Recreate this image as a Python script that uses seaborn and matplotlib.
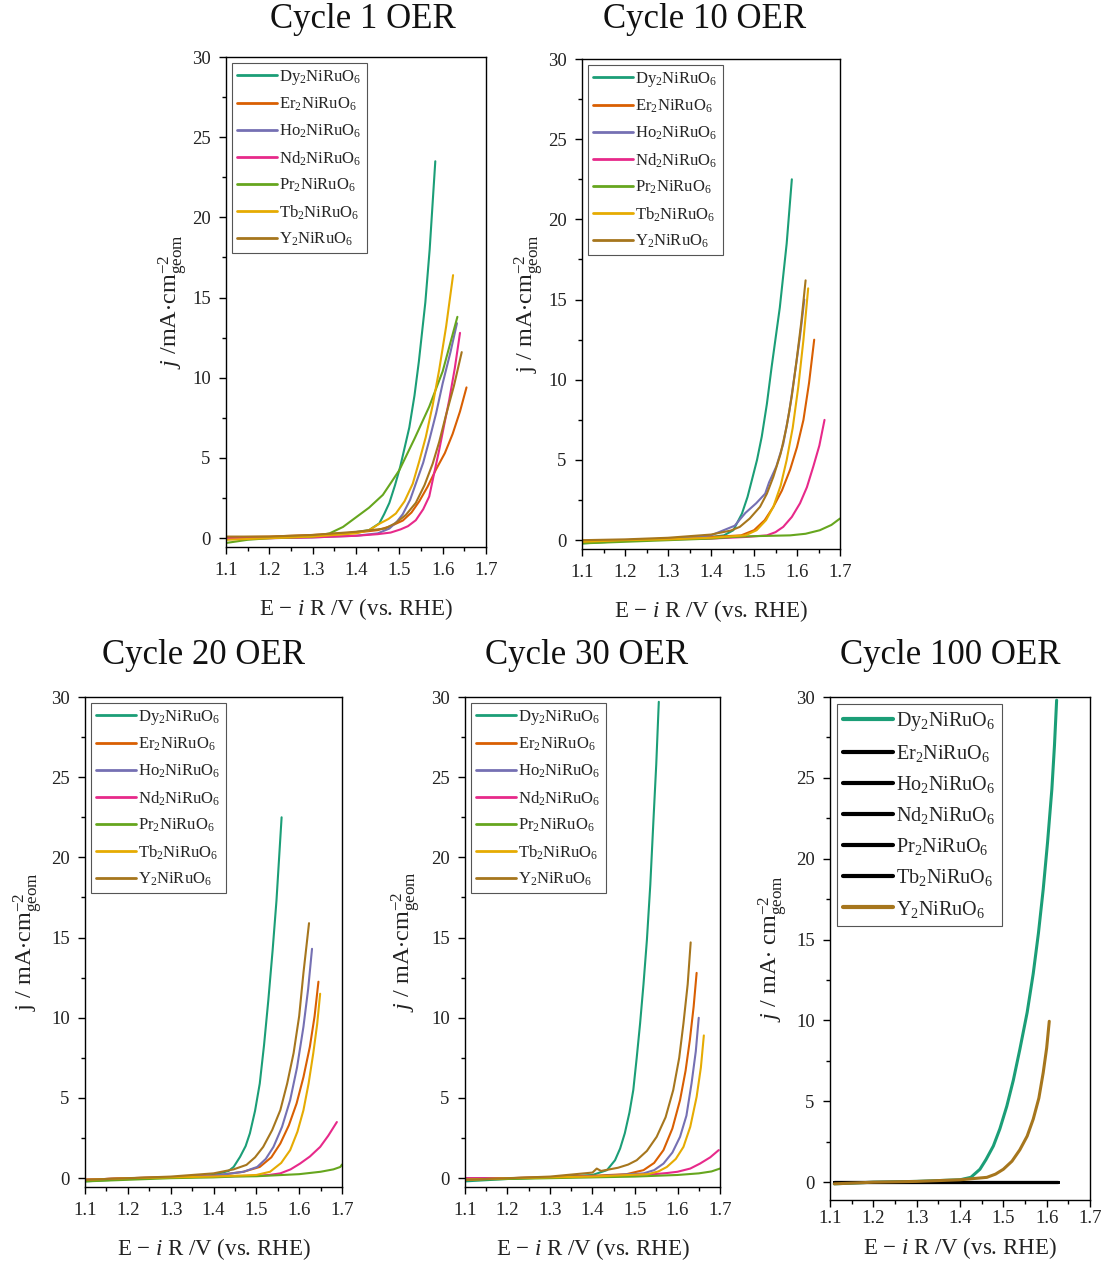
import numpy as np
import pandas as pd
import matplotlib
matplotlib.use("Agg")
import matplotlib.pyplot as plt
from matplotlib.ticker import MultipleLocator
import seaborn as sns

# materials and colours (Dark2 style, as in the figure)
materials = ["Dy", "Er", "Ho", "Nd", "Pr", "Tb", "Y"]
colors = ["#1b9e77", "#d95f02", "#7570b3", "#e7298a", "#66a61e", "#e6ab02", "#a6761d"]
labels = [m + r"$_2$NiRuO$_6$" for m in materials]

# values: potential (V vs RHE), current density (mA cm-2)
cycle1 = {
    "Dy": ([1.10, 1.20, 1.30, 1.38, 1.43, 1.454, 1.465, 1.477, 1.49, 1.502, 1.523, 1.535, 1.545, 1.56, 1.57, 1.583],
           [0.0, 0.05, 0.15, 0.3, 0.5, 0.93, 1.5, 2.2, 3.3, 4.45, 6.9, 8.9, 11.0, 14.7, 18.0, 23.5]),
    "Er": ([1.10, 1.20, 1.30, 1.40, 1.45, 1.48, 1.508, 1.528, 1.546, 1.565, 1.584, 1.605, 1.623, 1.64, 1.655],
           [0.05, 0.1, 0.2, 0.35, 0.5, 0.75, 1.1, 1.6, 2.3, 3.2, 4.25, 5.3, 6.5, 7.9, 9.4]),
    "Ho": ([1.10, 1.20, 1.30, 1.40, 1.45, 1.477, 1.495, 1.508, 1.525, 1.538, 1.555, 1.569, 1.585, 1.60, 1.618, 1.633],
           [-0.05, 0.0, 0.05, 0.15, 0.3, 0.6, 1.05, 1.5, 2.4, 3.4, 4.7, 6.1, 7.8, 9.65, 11.6, 13.4]),
    "Nd": ([1.10, 1.20, 1.30, 1.40, 1.45, 1.48, 1.503, 1.52, 1.538, 1.555, 1.569, 1.58, 1.592, 1.603, 1.615, 1.628, 1.64],
           [0.0, 0.0, 0.05, 0.15, 0.25, 0.35, 0.55, 0.75, 1.12, 1.8, 2.6, 4.0, 5.5, 7.0, 8.6, 10.6, 12.8]),
    "Pr": ([1.10, 1.15, 1.20, 1.30, 1.339, 1.37, 1.40, 1.43, 1.462, 1.50, 1.535, 1.569, 1.60, 1.634],
           [-0.3, -0.1, 0.0, 0.1, 0.3, 0.7, 1.3, 1.9, 2.7, 4.24, 6.2, 8.2, 10.4, 13.8]),
    "Tb": ([1.10, 1.20, 1.30, 1.40, 1.43, 1.454, 1.475, 1.492, 1.512, 1.531, 1.546, 1.561, 1.577, 1.592, 1.608, 1.624],
           [-0.1, 0.0, 0.1, 0.3, 0.5, 0.9, 1.2, 1.54, 2.3, 3.4, 4.8, 6.3, 8.3, 10.5, 13.2, 16.4]),
    "Y": ([1.10, 1.20, 1.30, 1.40, 1.467, 1.492, 1.515, 1.538, 1.558, 1.577, 1.592, 1.607, 1.626, 1.644],
          [0.1, 0.1, 0.2, 0.4, 0.6, 0.95, 1.45, 2.2, 3.3, 4.65, 6.0, 7.6, 9.5, 11.6]),
}
cycle10 = {
    "Dy": ([1.10, 1.20, 1.30, 1.40, 1.43, 1.452, 1.472, 1.485, 1.495, 1.507, 1.518, 1.53, 1.541, 1.56, 1.576, 1.588],
           [-0.2, -0.05, 0.05, 0.2, 0.3, 0.62, 1.66, 2.7, 3.74, 5.0, 6.45, 8.5, 10.8, 14.5, 18.5, 22.5]),
    "Er": ([1.10, 1.20, 1.30, 1.40, 1.47, 1.50, 1.525, 1.545, 1.565, 1.584, 1.60, 1.615, 1.628, 1.64],
           [-0.1, 0.0, 0.1, 0.2, 0.3, 0.62, 1.25, 2.08, 3.1, 4.4, 5.8, 7.5, 9.8, 12.5]),
    "Ho": ([1.10, 1.20, 1.30, 1.40, 1.455, 1.48, 1.505, 1.526, 1.535, 1.552, 1.568, 1.582, 1.595, 1.607, 1.617],
           [-0.1, 0.0, 0.1, 0.3, 0.9, 1.7, 2.3, 2.9, 3.6, 4.6, 6.0, 8.0, 10.4, 12.7, 15.0]),
    "Nd": ([1.10, 1.20, 1.30, 1.40, 1.48, 1.53, 1.55, 1.568, 1.588, 1.607, 1.623, 1.638, 1.652, 1.664],
           [-0.1, 0.0, 0.05, 0.1, 0.2, 0.3, 0.5, 0.83, 1.45, 2.3, 3.3, 4.6, 5.9, 7.5]),
    "Pr": ([1.10, 1.20, 1.30, 1.40, 1.45, 1.50, 1.584, 1.62, 1.653, 1.68, 1.70],
           [-0.2, -0.1, 0.0, 0.1, 0.2, 0.25, 0.3, 0.4, 0.62, 0.95, 1.35]),
    "Tb": ([1.10, 1.20, 1.30, 1.40, 1.48, 1.506, 1.528, 1.545, 1.562, 1.576, 1.59, 1.603, 1.615, 1.626],
           [-0.1, 0.0, 0.05, 0.15, 0.3, 0.62, 1.25, 2.08, 3.4, 5.0, 7.0, 9.56, 12.5, 15.7]),
    "Y": ([1.10, 1.20, 1.30, 1.40, 1.446, 1.467, 1.49, 1.514, 1.53, 1.545, 1.562, 1.576, 1.588, 1.599, 1.61, 1.62],
          [0.0, 0.05, 0.15, 0.35, 0.6, 0.83, 1.35, 2.08, 2.9, 3.95, 5.4, 7.1, 9.0, 11.2, 13.6, 16.2]),
}
cycle20 = {
    "Dy": ([1.10, 1.20, 1.30, 1.40, 1.435, 1.447, 1.462, 1.475, 1.485, 1.497, 1.508, 1.518, 1.528, 1.538, 1.547, 1.559],
           [-0.2, -0.05, 0.05, 0.2, 0.45, 0.7, 1.33, 2.0, 2.8, 4.2, 5.9, 8.3, 11.1, 14.2, 17.3, 22.5]),
    "Er": ([1.10, 1.20, 1.30, 1.40, 1.47, 1.508, 1.535, 1.556, 1.576, 1.594, 1.61, 1.625, 1.636, 1.645],
           [-0.1, 0.0, 0.05, 0.15, 0.4, 0.7, 1.3, 2.16, 3.3, 4.66, 6.3, 8.2, 10.1, 12.25]),
    "Ho": ([1.10, 1.20, 1.30, 1.40, 1.47, 1.502, 1.522, 1.54, 1.56, 1.579, 1.595, 1.61, 1.621, 1.63],
           [-0.1, 0.0, 0.05, 0.15, 0.4, 0.7, 1.2, 1.95, 3.2, 4.87, 6.9, 9.44, 11.8, 14.3]),
    "Nd": ([1.10, 1.20, 1.30, 1.40, 1.50, 1.53, 1.556, 1.58, 1.602, 1.625, 1.649, 1.668, 1.688],
           [-0.1, 0.0, 0.05, 0.1, 0.15, 0.2, 0.3, 0.55, 0.91, 1.35, 1.95, 2.65, 3.5]),
    "Pr": ([1.10, 1.20, 1.30, 1.40, 1.45, 1.50, 1.60, 1.65, 1.68, 1.696, 1.70],
           [-0.2, -0.1, 0.0, 0.05, 0.1, 0.12, 0.25, 0.4, 0.55, 0.7, 0.85]),
    "Tb": ([1.10, 1.20, 1.30, 1.40, 1.50, 1.532, 1.558, 1.579, 1.596, 1.61, 1.622, 1.633, 1.642, 1.649],
           [-0.1, 0.0, 0.05, 0.1, 0.2, 0.4, 0.95, 1.75, 2.9, 4.24, 5.9, 7.8, 9.6, 11.5]),
    "Y": ([1.10, 1.20, 1.30, 1.40, 1.447, 1.477, 1.497, 1.516, 1.537, 1.556, 1.572, 1.587, 1.6, 1.61, 1.623],
          [-0.1, 0.0, 0.1, 0.3, 0.55, 0.83, 1.3, 1.95, 3.0, 4.24, 5.9, 7.8, 10.1, 12.8, 15.9]),
}
cycle30 = {
    "Dy": ([1.10, 1.20, 1.30, 1.40, 1.434, 1.453, 1.465, 1.476, 1.487, 1.496, 1.504, 1.512, 1.52, 1.528, 1.536, 1.543, 1.55, 1.556],
           [-0.2, -0.05, 0.05, 0.2, 0.5, 1.12, 1.85, 2.8, 4.1, 5.5, 7.5, 9.65, 12.1, 14.85, 18.3, 22.1, 25.8, 29.7]),
    "Er": ([1.10, 1.20, 1.30, 1.40, 1.48, 1.52, 1.545, 1.567, 1.588, 1.606, 1.619, 1.629, 1.638, 1.645],
           [0.0, 0.0, 0.05, 0.15, 0.25, 0.5, 0.95, 1.75, 3.1, 4.87, 6.7, 8.6, 10.7, 12.8]),
    "Ho": ([1.10, 1.20, 1.30, 1.40, 1.52, 1.545, 1.567, 1.588, 1.606, 1.621, 1.633, 1.643, 1.65],
           [0.0, 0.0, 0.05, 0.1, 0.3, 0.5, 0.91, 1.6, 2.58, 3.9, 5.9, 7.9, 10.0]),
    "Nd": ([1.10, 1.20, 1.30, 1.40, 1.50, 1.545, 1.575, 1.60, 1.63, 1.653, 1.677, 1.697],
           [0.0, 0.0, 0.05, 0.1, 0.2, 0.25, 0.32, 0.4, 0.6, 0.91, 1.3, 1.75]),
    "Pr": ([1.10, 1.20, 1.30, 1.40, 1.50, 1.60, 1.65, 1.68, 1.70],
           [-0.1, -0.05, 0.0, 0.05, 0.1, 0.2, 0.3, 0.42, 0.6]),
    "Tb": ([1.10, 1.20, 1.30, 1.40, 1.53, 1.555, 1.575, 1.596, 1.614, 1.63, 1.645, 1.655, 1.662],
           [-0.1, 0.0, 0.05, 0.1, 0.25, 0.42, 0.7, 1.2, 1.95, 3.2, 5.07, 6.9, 8.9]),
    "Y": ([1.10, 1.20, 1.30, 1.40, 1.41, 1.42, 1.46, 1.484, 1.504, 1.528, 1.551, 1.572, 1.59, 1.604, 1.614, 1.624, 1.631],
          [-0.1, 0.0, 0.1, 0.35, 0.6, 0.45, 0.65, 0.85, 1.12, 1.7, 2.58, 3.8, 5.5, 7.5, 9.65, 12.1, 14.7]),
}
cycle100 = {
    "Dy": ([1.11, 1.20, 1.30, 1.40, 1.425, 1.446, 1.46, 1.477, 1.492, 1.508, 1.523, 1.538, 1.555,
            1.569, 1.581, 1.592, 1.602, 1.612, 1.618, 1.623],
           [-0.1, 0.0, 0.05, 0.15, 0.3, 0.8, 1.4, 2.24, 3.3, 4.7, 6.3, 8.2, 10.5,
            12.9, 15.4, 18.1, 21.0, 24.3, 27.0, 29.8]),
    "Er": ([1.11, 1.625], [0.0, 0.0]),
    "Ho": ([1.11, 1.625], [0.0, 0.0]),
    "Nd": ([1.11, 1.625], [0.0, 0.0]),
    "Pr": ([1.11, 1.625], [0.0, 0.0]),
    "Tb": ([1.11, 1.625], [0.0, 0.0]),
    "Y": ([1.11, 1.20, 1.30, 1.40, 1.462, 1.482, 1.50, 1.52, 1.538, 1.555, 1.569, 1.582, 1.592, 1.60, 1.606],
          [-0.1, 0.0, 0.05, 0.15, 0.3, 0.5, 0.8, 1.3, 2.0, 2.85, 3.9, 5.2, 6.77, 8.3, 9.95]),
}

titles = ["Cycle 1 OER", "Cycle 10 OER", "Cycle 20 OER", "Cycle 30 OER", "Cycle 100 OER"]
cycles = [cycle1, cycle10, cycle20, cycle30, cycle100]

sns.set_theme(style="ticks")
plt.rcParams["font.family"] = ["Liberation Serif", "DejaVu Serif"]
plt.rcParams["mathtext.fontset"] = "custom"
plt.rcParams["mathtext.rm"] = "Liberation Serif"
plt.rcParams["mathtext.it"] = "Liberation Serif:italic"
plt.rcParams["mathtext.default"] = "regular"

W, H = 1105, 1262
fig = plt.figure(figsize=(W / 100, H / 100), dpi=100)

# axes boxes in pixels: left, top, right, bottom
boxes = [(226, 57, 486, 547), (582, 59, 840, 549), (85, 697, 342, 1187),
         (465, 697, 720, 1187), (830, 697, 1090, 1200)]
title_pos = [(363, 19), (705, 19), (203, 656), (587, 656), (950, 656)]
ylabels = [r"$\mathit{j}$ /mA$\cdot$cm$^{-2}_{\mathrm{geom}}$",
           r"j / mA$\cdot$cm$^{-2}_{\mathrm{geom}}$",
           r"j / mA$\cdot$cm$^{-2}_{\mathrm{geom}}$",
           r"$\mathit{j}$ / mA$\cdot$cm$^{-2}_{\mathrm{geom}}$",
           r"$\mathit{j}$ / mA$\cdot$ cm$^{-2}_{\mathrm{geom}}$"]
ylab_x = [-0.14, -0.14, -0.155, -0.165, -0.155]
xlabel = r"E − $\mathit{i}$ R /V (vs. RHE)"

for k, (data, title) in enumerate(zip(cycles, titles)):
    l, t, r, b = boxes[k]
    ax = fig.add_axes([l / W, 1 - b / H, (r - l) / W, (b - t) / H])
    last = k == 4
    for m, c, lab in zip(materials, colors, labels):
        v, j = data[m]
        col = c if (not last or m in ("Dy", "Y")) else "black"
        sns.lineplot(x=v, y=j, ax=ax, color=col, lw=2.2 if last else 1.5,
                     sort=False, estimator=None, label=lab)
    ax.set_xlim(1.1, 1.7)
    ax.set_ylim(-1.1 if last else -0.55, 30)
    ax.xaxis.set_major_locator(MultipleLocator(0.1))
    ax.xaxis.set_minor_locator(MultipleLocator(0.05))
    ax.yaxis.set_major_locator(MultipleLocator(5))
    ax.yaxis.set_minor_locator(MultipleLocator(2.5))
    ax.tick_params(which="major", direction="out", length=5, width=1, labelsize=13.5, pad=6,
                   top=False, right=False, color="black", labelcolor="#222222")
    ax.tick_params(which="minor", direction="out", length=3, width=1,
                   top=False, right=False, color="black")
    if last:
        ax.tick_params(axis="x", which="major", pad=2)
    ax.set_xticks(np.round(np.arange(1.1, 1.71, 0.1), 1))
    ax.set_xticklabels([f"{x:.1f}" for x in np.arange(1.1, 1.71, 0.1)])
    for s in ax.spines.values():
        s.set_color("black")
        s.set_linewidth(1.0)
    ax.set_xlabel(xlabel, fontsize=16.5, color="#222222", labelpad=6 if last else 12)
    ax.set_ylabel(ylabels[k], fontsize=17.5, color="#222222")
    ax.yaxis.set_label_coords(ylab_x[k], 0.5)
    leg = ax.legend(loc="upper left", fontsize=14.5 if last else 12,
                    handlelength=2.5 if last else 2.4, handletextpad=0.15,
                    labelspacing=0.5 if last else 0.55, borderpad=0.3, borderaxespad=0.35,
                    fancybox=False, framealpha=1, edgecolor="#555555")
    leg.get_frame().set_linewidth(0.8)
    for line in leg.get_lines():
        line.set_linewidth(3.0 if last else 2.0)
    tx, ty = title_pos[k]
    fig.text(tx / W, 1 - ty / H, title, fontsize=25, ha="center", va="center", color="#111111")

fig.savefig("out.png", dpi=100)
